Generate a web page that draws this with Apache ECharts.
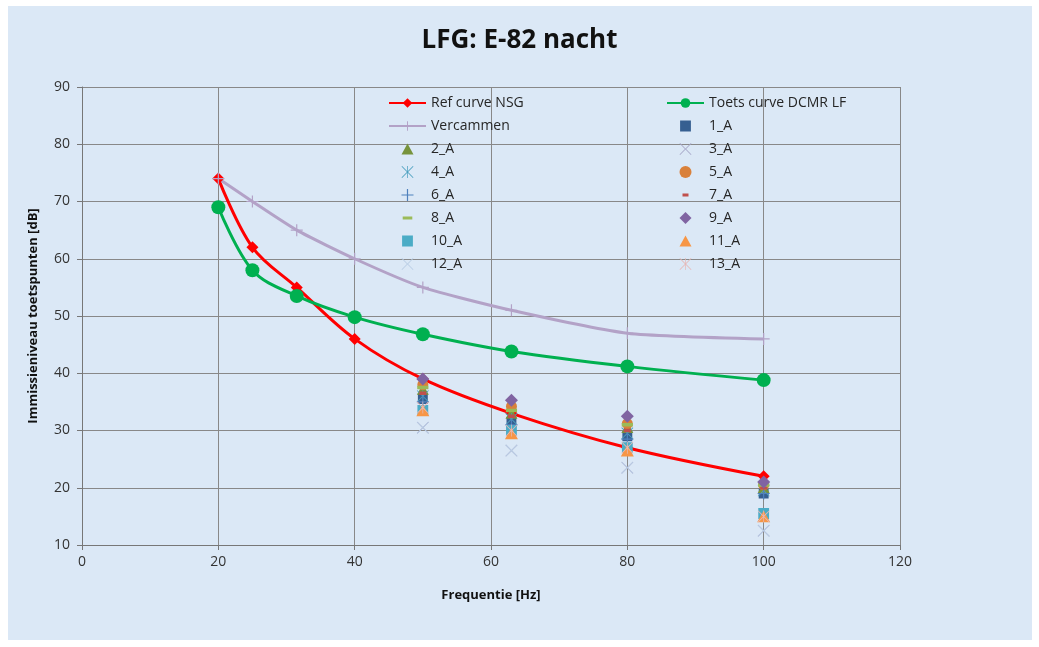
<!DOCTYPE html>
<html><head><meta charset="utf-8">
<script src="https://cdn.jsdelivr.net/npm/echarts@6/dist/echarts.min.js"></script>
<style>html,body{margin:0;padding:0;background:#fff}#c{width:1039px;height:647px}</style>
</head><body><div id="c"></div>
<script>
const freqs = [20, 25, 31.5, 40, 50, 63, 80, 100];
const refNSG = [74, 62, 55, 46, 39, 33, 27, 22];
const toetsDCMR = [69, 58, 53.5, 49.8, 46.8, 43.8, 41.2, 38.8];
const vercammen = [74, 70, 65, 60, 55, 51, 47, 46];
const pointFreqs = [50, 63, 80, 100];
const s1 = [35.5, 31.5, 29, 19];
const s2 = [37.2, 33, 30.5, 20];
const s3 = [30.5, 26.5, 23.5, 12.5];
const s4 = [36, 32, 29.5, 19.5];
const s5 = [38, 34.2, 31.2, 20.5];
const s6 = [35, 31, 28.5, 19];
const s7 = [36.5, 32.5, 30, 20];
const s8 = [37.5, 33.5, 31, 20.5];
const s9 = [39, 35.3, 32.5, 21];
const s10 = [33.5, 30, 27, 15.5];
const s11 = [33.5, 29.5, 26.5, 15];
const s12 = [30.5, 26.5, 23.5, 12.5];
const s13 = [34, 30, 27, 15];
const xTicks = [0, 20, 40, 60, 80, 100, 120];
const yTicks = [10, 20, 30, 40, 50, 60, 70, 80, 90];

const BOX = 'M0,0 L0.01,0 L0,0.01 Z M20,20 L19.99,20 L20,19.99 Z ';
const X = 'path://M1,0 L10,9 L19,0 L20,1 L11,10 L20,19 L19,20 L10,11 L1,20 L0,19 L9,10 L0,1 Z';
const PLUS = 'path://M9,0 H11 V9 H20 V11 H11 V20 H9 V11 H0 V9 H9 Z';
const AST = 'path://M1,0 L10,9 L19,0 L20,1 L11,10 L20,19 L19,20 L10,11 L1,20 L0,19 L9,10 L0,1 Z M9.4,0 H10.6 V20 H9.4 Z';
const RECT = 'path://M1,1 H19 V19 H1 Z ' + BOX;
const TRI = 'path://M10,1 L20,19 L0,19 Z ' + BOX;
const DIAM = 'path://M10,0 L20,10 L10,20 L0,10 Z';
const CIRC = 'path://M0,10 A10,10 0 1,0 20,10 A10,10 0 1,0 0,10 Z';
const DASH_S = 'path://' + BOX + 'M5,7.5 H15 V12.5 H5 Z';
const DASH_L = 'path://' + BOX + 'M2,7.5 H18 V12.5 H2 Z';

const pts = arr => pointFreqs.map((f, i) => [f, arr[i]]);
const lineData = arr => freqs.map((f, i) => [f, arr[i]]);

const scatterDefs = [
  ['1_A', s1, RECT, '#365f91', 11],
  ['2_A', s2, TRI, '#77933c', 12],
  ['3_A', s3, X, '#a6a6c8', 12],
  ['4_A', s4, AST, '#4a9fbf', 12],
  ['5_A', s5, CIRC, '#d9813b', 11],
  ['6_A', s6, PLUS, '#4f81bd', 12],
  ['7_A', s7, DASH_S, '#c0504d', 14],
  ['8_A', s8, DASH_L, '#9bbb59', 14],
  ['9_A', s9, DIAM, '#8064a2', 13],
  ['10_A', s10, RECT, '#4bacc6', 12],
  ['11_A', s11, TRI, '#f79646', 13],
  ['12_A', s12, X, '#b9cde5', 12],
  ['13_A', s13, AST, '#e6b9b8', 12]
];

const series = [
  { name: 'Ref curve NSG', type: 'line', smooth: 0.35, data: lineData(refNSG),
    lineStyle: { color: '#ff0000', width: 3 }, itemStyle: { color: '#ff0000' },
    symbol: 'diamond', symbolSize: 12, z: 3 },
  { name: 'Toets curve DCMR LF', type: 'line', smooth: 0.35, data: lineData(toetsDCMR),
    lineStyle: { color: '#00b050', width: 3 }, itemStyle: { color: '#00b050' },
    symbol: 'circle', symbolSize: 14, z: 3 },
  { name: 'Vercammen', type: 'line', smooth: 0.2, data: lineData(vercammen),
    lineStyle: { color: '#b3a2c7', width: 3 }, itemStyle: { color: '#b3a2c7' },
    symbol: PLUS, symbolSize: 12, z: 3 }
];
scatterDefs.forEach(d => series.push({
  name: d[0], type: 'scatter', data: pts(d[1]), symbol: d[2], symbolSize: d[4],
  symbolKeepAspect: true,
  itemStyle: { color: d[3], opacity: 1 }, z: 4
}));

const legendText = { fontFamily: 'Open Sans', fontSize: 14, color: '#262626' };
function legendCol(left, names) {
  return { orient: 'vertical', left: left, top: 91, itemGap: 9, itemWidth: 37, itemHeight: 12,
    textStyle: legendText, symbolKeepAspect: true, data: names };
}
const option = {
  animation: false,
  backgroundColor: '#ffffff',
  graphic: [{ type: 'rect', shape: { x: 8, y: 6, width: 1024, height: 634 }, style: { fill: '#dbe8f6' }, z: -100, silent: true }],
  title: { text: 'LFG: E-82 nacht', left: 'center', top: 23,
    textStyle: { fontFamily: 'Open Sans', fontWeight: 'bold', fontSize: 26, color: '#111' } },
  grid: { left: 82, right: 139, top: 87, bottom: 102 },
  legend: [
    legendCol(383, ['Ref curve NSG', 'Vercammen', '2_A', '4_A', '6_A', '8_A', '10_A', '12_A']),
    legendCol(661, ['Toets curve DCMR LF', '1_A', '3_A', '5_A', '7_A', '9_A', '11_A', '13_A'])
  ],
  xAxis: { type: 'value', min: xTicks[0], max: xTicks[xTicks.length - 1], interval: 20,
    name: 'Frequentie [Hz]', nameLocation: 'middle', nameGap: 44,
    nameTextStyle: { fontFamily: 'Open Sans', fontWeight: 'bold', fontSize: 13, color: '#111' },
    axisLine: { lineStyle: { color: '#777', width: 1 } },
    axisTick: { show: true, length: 5, lineStyle: { color: '#777' } },
    axisLabel: { fontFamily: 'Open Sans', fontSize: 14, color: '#333', margin: 10 },
    splitLine: { show: true, lineStyle: { color: '#888', width: 1 } } },
  yAxis: { type: 'value', min: yTicks[0], max: yTicks[yTicks.length - 1], interval: 10,
    name: 'Immissieniveau toetspunten [dB]', nameLocation: 'middle', nameGap: 42,
    nameTextStyle: { fontFamily: 'Open Sans', fontWeight: 'bold', fontSize: 13, color: '#111' },
    axisLine: { show: true, lineStyle: { color: '#777', width: 1 } },
    axisTick: { show: true, length: 5, lineStyle: { color: '#777' } },
    axisLabel: { fontFamily: 'Open Sans', fontSize: 14, color: '#333', margin: 12 },
    splitLine: { show: true, lineStyle: { color: '#888', width: 1 } } },
  series: series
};
echarts.init(document.getElementById('c')).setOption(option);
</script></body></html>
